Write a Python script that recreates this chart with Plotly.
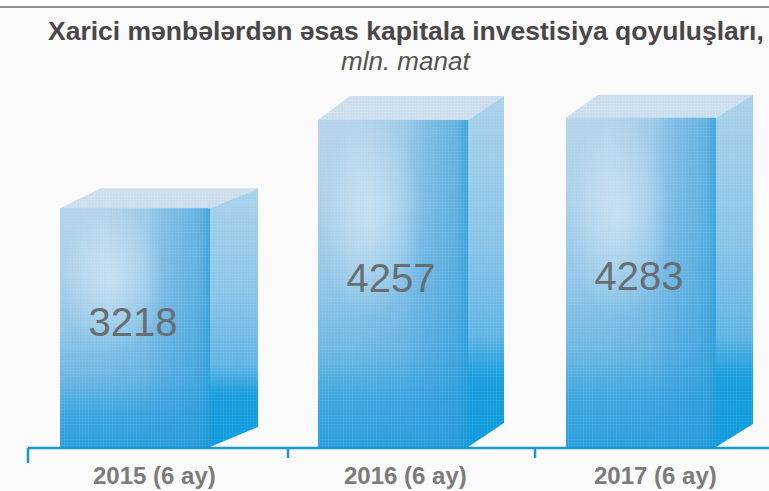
import plotly.graph_objects as go

# Data
categories = ["2015 (6 ay)", "2016 (6 ay)", "2017 (6 ay)"]
values = [3218, 4257, 4283]
title_text = "Xarici mənbələrdən əsas kapitala investisiya qoyuluşları,"
subtitle_text = "mln. manat"

# Layout constants (x axis is laid out in pixel-like units)
W, H = 769, 491
BASE_PX = 447
K = 0.0850                    # pixels per value unit
V0 = 410                      # value at the baseline
bar_centers = [135, 393, 641]
bar_width = 150
side_dx = [48, 36, 37]
side_dy = [20, 24, 23]
back_left_dx = [41, 32, 32]
boundaries = [28, 288, 535]
label_pos = [154, 405, 655]

FRONT = [[0.0, "#2a9fdc"], [0.14, "#3aa5de"], [0.3, "#6db7e3"], [0.5, "#8fc5e7"], [0.75, "#aacfe9"], [1.0, "#b4d4ea"]]
SIDE = [[0.0, "#0a9ade"], [0.2, "#169cdd"], [0.32, "#5fb4e4"], [0.6, "#8ac4e8"], [1.0, "#a9d1ea"]]
TOP = [[0.0, "#c8dcec"], [1.0, "#cbdcec"]]
GLOW = [[0.0, "rgba(255,255,255,0.38)"], [0.6, "rgba(255,255,255,0.16)"], [1.0, "rgba(255,255,255,0)"]]
STRIP = [[0.0, "rgba(40,150,220,0)"], [0.4, "rgba(40,150,220,0.14)"], [0.58, "rgba(40,150,220,0.36)"], [0.9, "rgba(30,150,215,0.55)"], [1.0, "rgba(20,150,215,0.75)"]]

fig = go.Figure()

def poly(xs, ys, grad):
    fig.add_trace(go.Scatter(x=xs, y=ys, mode="lines", line=dict(width=0), fill="toself",
                             fillgradient=grad, hoverinfo="skip", showlegend=False))

def dither(xs, ys, color, solidity):
    fig.add_trace(go.Scatter(x=xs, y=ys, mode="lines", line=dict(width=0), fill="toself",
                             fillcolor="rgba(0,0,0,0)",
                             fillpattern=dict(shape=".", size=3, solidity=solidity, fgcolor=color,
                                              bgcolor="rgba(0,0,0,0)", fillmode="overlay"),
                             hoverinfo="skip", showlegend=False))

fig.add_trace(go.Bar(x=bar_centers, y=[v - V0 for v in values], base=V0, width=bar_width,
                     marker=dict(color="#6fbbe6", line=dict(width=0)),
                     hoverinfo="skip", showlegend=False))

for c, v, dx, dy, bl in zip(bar_centers, values, side_dx, side_dy, back_left_dx):
    x0, x1 = c - bar_width / 2, c + bar_width / 2
    dv = dy / K
    # top face
    top_x = [x0, x0 + bl, x1 + dx, x1, x0]
    top_y = [v, v + dv, v + dv, v, v]
    poly(top_x, top_y, dict(type="vertical", colorscale=TOP))
    # right face
    side_x = [x1, x1 + dx, x1 + dx, x1, x1]
    side_y = [V0, V0 + dv, v + dv, v, V0]
    poly(side_x, side_y, dict(type="vertical", colorscale=SIDE, start=V0, stop=v + dv))
    # front face
    front_x = [x0, x1, x1, x0, x0]
    front_y = [V0, V0, v, v, V0]
    poly(front_x, front_y, dict(type="vertical", colorscale=FRONT, start=V0, stop=v))
    # darker strip on the right of the front face
    poly([x0 + 40, x1, x1, x0 + 40, x0 + 40], [V0, V0, v, v, V0],
         dict(type="horizontal", colorscale=STRIP, start=x0 + 40, stop=x1))
    # pale glow in the upper left
    gy0 = v - 0.6 * (v - V0)
    poly([x0, x0 + 105, x0 + 105, x0, x0], [gy0, gy0, v, v, gy0],
         dict(type="radial", colorscale=GLOW))
    # print-screen mottling
    dither(top_x, top_y, "rgba(255,255,255,0.45)", 0.35)
    dither(side_x, side_y, "rgba(255,255,255,0.22)", 0.35)
    dither(front_x, front_y, "rgba(255,255,255,0.22)", 0.35)

# Value labels
fig.add_trace(go.Scatter(x=[c - 2 for c in bar_centers], y=[(v + V0) / 2 + 2 / K for v in values], mode="text",
                         text=[str(v) for v in values],
                         textfont=dict(family="Liberation Sans", size=40, color="#696e72"),
                         hoverinfo="skip", showlegend=False))

AXIS = "#1a96d4"
shapes = [
    dict(type="rect", xref="paper", yref="paper", x0=0, x1=1, y0=1 - 7 / H, y1=1,
         fillcolor="#ffffff", line=dict(width=0), layer="below"),
    dict(type="line", xref="paper", yref="paper", x0=0, x1=1, y0=1 - 7 / H, y1=1 - 7 / H,
         line=dict(color="#8f8f92", width=2)),
    dict(type="line", xref="x", yref="paper", x0=boundaries[0], x1=W, y0=1 - 448 / H, y1=1 - 448 / H,
         line=dict(color=AXIS, width=2.5)),
]
for i, b in enumerate(boundaries):
    shapes.append(dict(type="line", xref="x", yref="paper", x0=b, x1=b,
                       y0=1 - 448 / H, y1=1 - (463 if i == 0 else 458) / H,
                       line=dict(color=AXIS, width=2.5)))

def note(text, x, y, size, color):
    return dict(text=text, xref="x", yref="paper", x=x, y=1 - y / H, xanchor="center", yanchor="middle",
                showarrow=False, font=dict(family="Liberation Sans", size=size, color=color))

fig.update_layout(
    width=W, height=H, autosize=False,
    margin=dict(l=0, r=0, t=0, b=0),
    paper_bgcolor="#fafafa", plot_bgcolor="#fafafa",
    barmode="overlay",
    xaxis=dict(range=[0, W], showgrid=False, zeroline=False, showline=False,
               showticklabels=False, ticks="", fixedrange=True),
    yaxis=dict(range=[V0 - (H - BASE_PX) / K, V0 + BASE_PX / K], visible=False, fixedrange=True),
    shapes=shapes,
    annotations=[
        note("<b>" + title_text + "</b>", 406, 31, 26.5, "#4b4648"),
        note("<i>" + subtitle_text + "</i>", 406, 61, 26, "#55514f"),
    ] + [note("<b>" + t + "</b>", p, 475, 24, "#7c7a7a") for t, p in zip(categories, label_pos)],
)
fig.write_html("out.html", config=dict(displayModeBar=False),
               post_script="document.body.style.margin='0';document.documentElement.style.overflow='hidden';")
